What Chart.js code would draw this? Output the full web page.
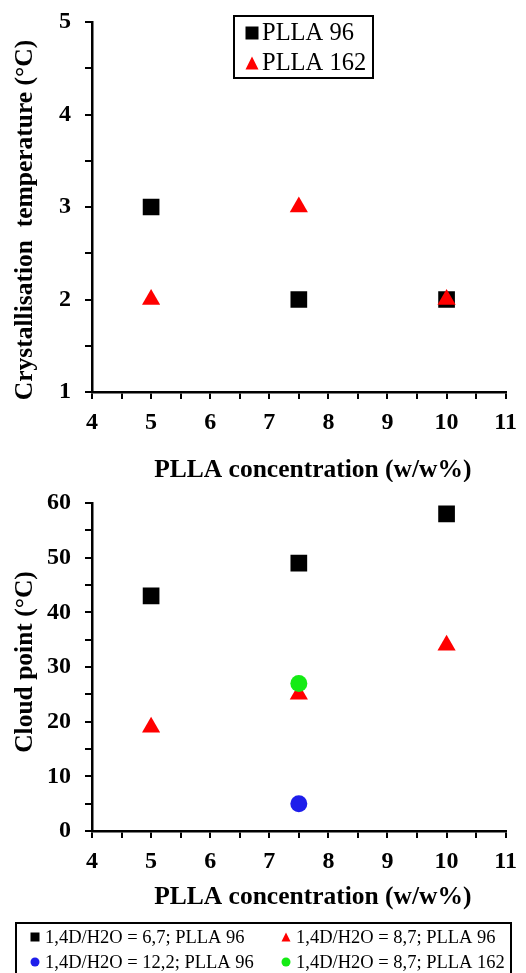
<!DOCTYPE html>
<html>
<head>
<meta charset="utf-8">
<script src="https://cdn.jsdelivr.net/npm/chart.js"></script>
<style>
  html, body { margin: 0; padding: 0; background: #fff; }
  #wrap { position: relative; width: 526px; height: 973px; overflow: hidden; }
  #wrap div { position: absolute; left: 0; width: 526px; }
</style>
</head>
<body>
<div id="wrap">
  <div style="top:0;height:482px"><canvas id="crystChart"></canvas></div>
  <div style="top:482px;height:491px"><canvas id="cloudChart"></canvas></div>
</div>
<script>
// Datos
const concentrations = [5, 7.5, 10];

// Gráfico superior: temperatura de cristalización
const crystPlla96 = [3, 2, 2];
const crystPlla162 = [2, 3, 2];
const crystYTicks = [1, 2, 3, 4, 5];

// Gráfico inferior: punto de nube
const cloudConc = [5, 7.5, 10];
const cloud67Plla96 = [43, 49, 58];
const cloud87Plla96 = [19, 25, 34];
const cloudConcSingle = [7.5];
const cloud122Plla96 = [5];
const cloud87Plla162 = [27];
const cloudYTicks = [0, 10, 20, 30, 40, 50, 60];

const xTicks = [4, 5, 6, 7, 8, 9, 10, 11];

const serif = "'Liberation Serif', 'Times New Roman', serif";

function toPoints(xs, ys) {
  return ys.map((y, i) => ({ x: xs[i], y: y }));
}

// Dibuja un marcador simple para la leyenda
function drawMarker(ctx, style, x, y, s, color) {
  ctx.save();
  ctx.fillStyle = color;
  ctx.beginPath();
  if (style === 'rect') {
    ctx.rect(x - s / 2, y - s / 2, s, s);
  } else if (style === 'triangle') {
    ctx.moveTo(x, y - s / 2);
    ctx.lineTo(x + s / 2, y + s / 2);
    ctx.lineTo(x - s / 2, y + s / 2);
    ctx.closePath();
  } else {
    ctx.arc(x, y, s / 2, 0, Math.PI * 2);
  }
  ctx.fill();
  ctx.restore();
}

// Leyenda con marco, dibujada a mano dentro del canvas
const boxLegend = {
  id: 'boxLegend',
  afterDraw(chart, args, opts) {
    const ctx = chart.ctx;
    ctx.save();
    ctx.strokeStyle = '#000';
    ctx.lineWidth = 2;
    ctx.strokeRect(opts.x, opts.y, opts.w, opts.h);
    ctx.font = opts.font;
    ctx.fillStyle = '#000';
    ctx.textBaseline = 'middle';
    ctx.textAlign = 'left';
    chart.data.datasets.forEach((ds, i) => {
      const col = i % opts.cols;
      const row = Math.floor(i / opts.cols);
      const mx = opts.markerX + col * opts.colW;
      const my = opts.rowY + row * opts.rowH;
      drawMarker(ctx, ds.pointStyle, mx, my, opts.markerSize, ds.backgroundColor);
      ctx.fillText(ds.label, mx + opts.textGap, my + 1);
    });
    ctx.restore();
  }
};

// Títulos de los ejes (algo desplazados respecto al centro, como en el original)
const axisTitles = {
  id: 'axisTitles',
  afterDraw(chart, args, opts) {
    const ctx = chart.ctx;
    const area = chart.chartArea;
    ctx.save();
    ctx.font = 'bold 25.5px ' + serif;
    ctx.fillStyle = '#000';
    ctx.textAlign = 'center';
    ctx.textBaseline = 'middle';
    ctx.fillText(opts.xText, (area.left + area.right) / 2 + opts.xShift, opts.xY);
    ctx.translate(opts.yX, (area.top + area.bottom) / 2 + opts.yShift);
    ctx.rotate(-Math.PI / 2);
    ctx.fillText(opts.yText, 0, 0);
    ctx.restore();
  }
};

function makeScales(yMin, yMax, yStep, yLabels, xHeight) {
  const tickFont = { family: serif, size: 24, weight: 'bold' };
  return {
    x: {
      type: 'linear',
      min: 4, max: 11,
      afterFit: (s) => { s.height = xHeight; },
      afterBuildTicks: (s) => {
        s.ticks = [];
        for (let v = 4; v <= 11; v += 0.5) s.ticks.push({ value: v });
      },
      ticks: {
        autoSkip: false, maxRotation: 0, padding: 9,
        color: '#000', font: tickFont,
        callback: (v) => xTicks.includes(v) ? String(v) : ''
      },
      grid: { drawOnChartArea: false, color: '#000', lineWidth: 2, tickLength: 7 },
      border: { color: '#000', width: 2.5 }
    },
    y: {
      type: 'linear',
      min: yMin, max: yMax,
      afterFit: (s) => {
        s.width = 92;
        // que el relleno de las etiquetas no empuje el área del gráfico
        s.paddingTop = 0;
        s.paddingBottom = 0;
      },
      afterBuildTicks: (s) => {
        s.ticks = [];
        for (let v = yMin; v <= yMax + 1e-9; v += yStep) s.ticks.push({ value: v });
      },
      ticks: {
        autoSkip: false, padding: 14,
        color: '#000', font: tickFont,
        callback: (v) => yLabels.includes(v) ? String(v) : ''
      },
      grid: { drawOnChartArea: false, color: '#000', lineWidth: 2, tickLength: 7 },
      border: { color: '#000', width: 2.5 }
    }
  };
}

function createCharts() {
  // Gráfico superior
  new Chart(document.getElementById('crystChart'), {
    type: 'scatter',
    data: {
      datasets: [
        {
          label: 'PLLA 96', data: toPoints(concentrations, crystPlla96),
          pointStyle: 'rect', pointRadius: 11.8, pointHoverRadius: 11.8,
          backgroundColor: '#000', borderColor: '#000', borderWidth: 0, order: 1
        },
        {
          label: 'PLLA 162', data: toPoints(concentrations, crystPlla162),
          pointStyle: 'triangle', pointRadius: 10.5, pointHoverRadius: 10.5,
          backgroundColor: '#ff0000', borderColor: '#ff0000', borderWidth: 0, order: 0
        }
      ]
    },
    options: {
      responsive: true, maintainAspectRatio: false, animation: false,
      layout: { padding: { top: 22, right: 19, bottom: 0, left: 0 } },
      scales: makeScales(1, 5, 0.5, crystYTicks, 90),
      plugins: {
        legend: { display: false },
        tooltip: { enabled: false },
        boxLegend: {
          x: 234, y: 16, w: 139, h: 62, cols: 1, colW: 0, rowY: 33, rowH: 30,
          markerX: 252, markerSize: 13, textGap: 10,
          font: '24.5px ' + serif
        },
        axisTitles: {
          xText: 'PLLA concentration (w/w%)', xShift: 14, xY: 470,
          yText: 'Crystallisation  temperature (°C)', yX: 25, yShift: 13
        }
      }
    },
    plugins: [boxLegend, axisTitles]
  });

  // Gráfico inferior
  new Chart(document.getElementById('cloudChart'), {
    type: 'scatter',
    data: {
      datasets: [
        {
          label: '1,4D/H2O = 6,7; PLLA 96', data: toPoints(cloudConc, cloud67Plla96),
          pointStyle: 'rect', pointRadius: 11.8, pointHoverRadius: 11.8,
          backgroundColor: '#000', borderColor: '#000', borderWidth: 0, order: 2
        },
        {
          label: '1,4D/H2O = 8,7; PLLA 96', data: toPoints(cloudConc, cloud87Plla96),
          pointStyle: 'triangle', pointRadius: 10.5, pointHoverRadius: 10.5,
          backgroundColor: '#ff0000', borderColor: '#ff0000', borderWidth: 0, order: 1
        },
        {
          label: '1,4D/H2O = 12,2; PLLA 96', data: toPoints(cloudConcSingle, cloud122Plla96),
          pointStyle: 'circle', pointRadius: 8.5, pointHoverRadius: 8.5,
          backgroundColor: 'rgb(30,30,235)', borderColor: 'rgb(30,30,235)', borderWidth: 0, order: 3
        },
        {
          label: '1,4D/H2O = 8,7; PLLA 162', data: toPoints(cloudConcSingle, cloud87Plla162),
          pointStyle: 'circle', pointRadius: 8.5, pointHoverRadius: 8.5,
          backgroundColor: 'rgb(20,235,20)', borderColor: 'rgb(20,235,20)', borderWidth: 0, order: 0
        }
      ]
    },
    options: {
      responsive: true, maintainAspectRatio: false, animation: false,
      layout: { padding: { top: 21, right: 19, bottom: 64, left: 0 } },
      scales: makeScales(0, 60, 5, cloudYTicks, 78),
      plugins: {
        legend: { display: false },
        tooltip: { enabled: false },
        boxLegend: {
          x: 16, y: 441, w: 495, h: 60, cols: 2, colW: 251, rowY: 455, rowH: 25,
          markerX: 35, markerSize: 9, textGap: 10,
          font: '18.5px ' + serif
        },
        axisTitles: {
          xText: 'PLLA concentration (w/w%)', xShift: 14, xY: 415,
          yText: 'Cloud point (°C)', yX: 25, yShift: -5
        }
      }
    },
    plugins: [boxLegend, axisTitles]
  });
}

createCharts();
</script>
</body>
</html>
